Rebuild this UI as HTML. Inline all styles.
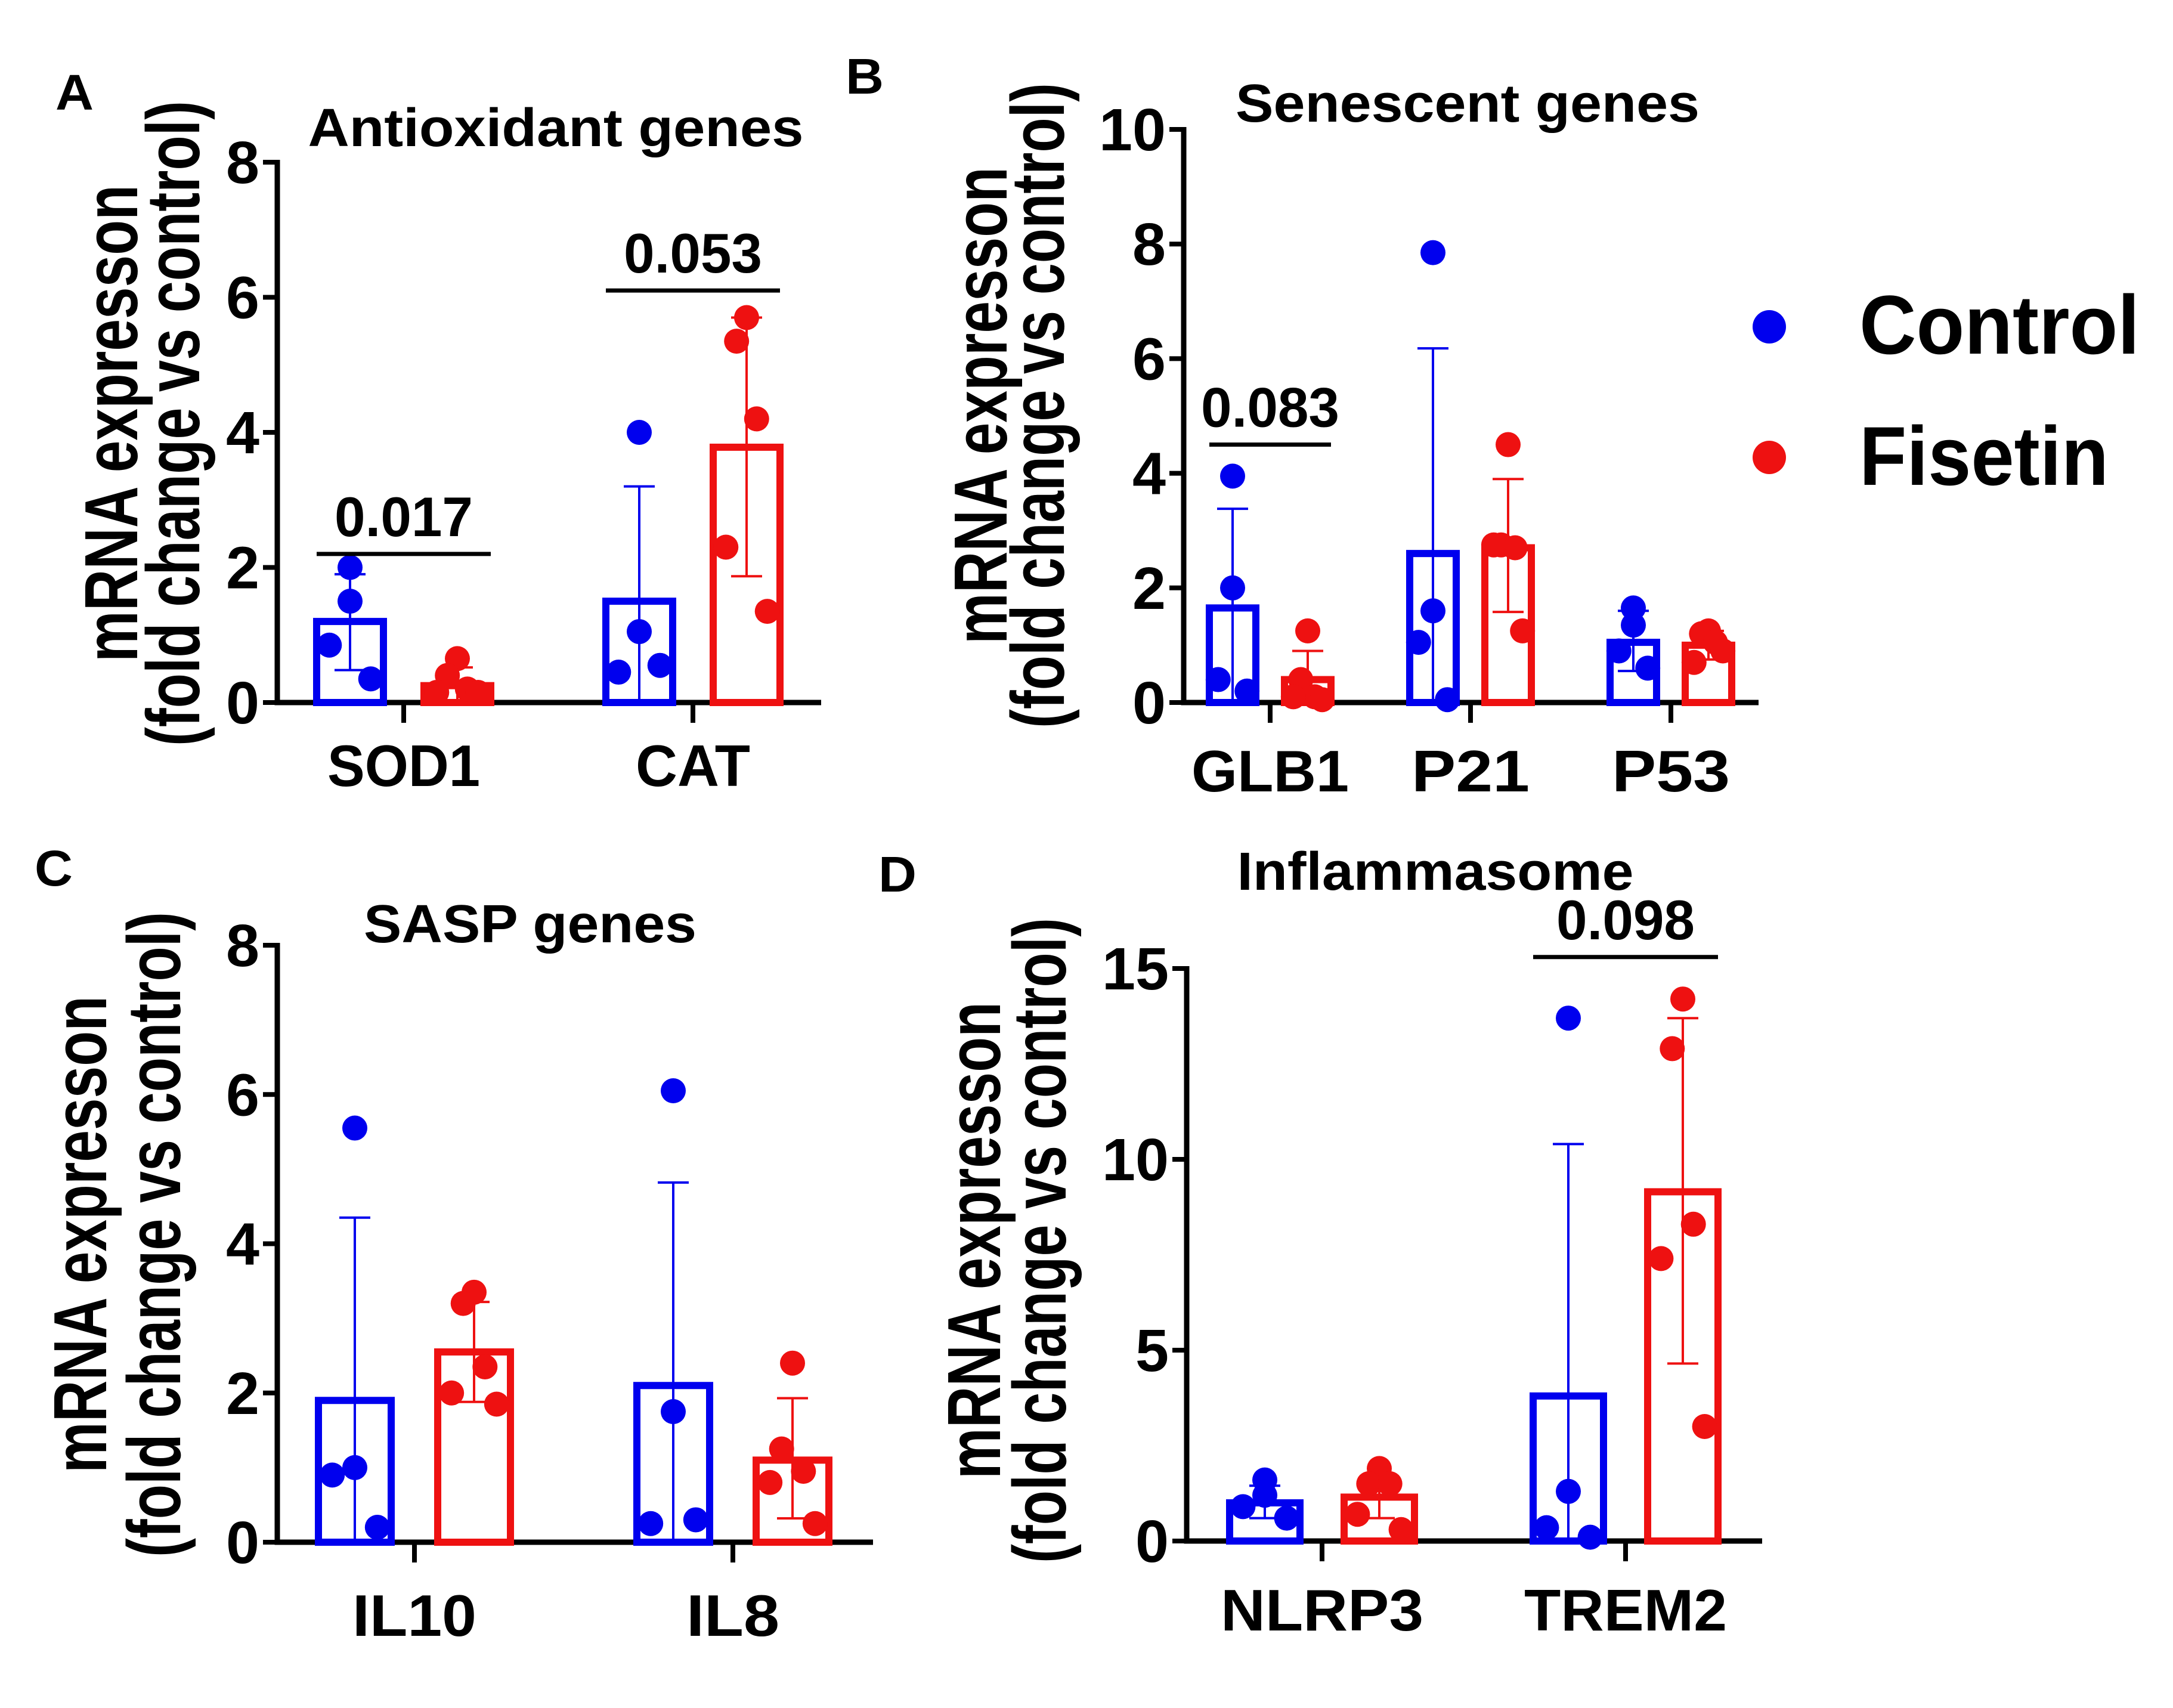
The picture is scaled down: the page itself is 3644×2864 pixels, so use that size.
<!DOCTYPE html>
<html><head><meta charset="utf-8"><style>
html,body{margin:0;padding:0;background:#fff;}
svg{display:block;}
text{font-family:"Liberation Sans",Arial,sans-serif;font-weight:bold;fill:#000;}
</style></head><body>
<svg id="fig" width="3644" height="2864" viewBox="0 0 3644 2864" xmlns="http://www.w3.org/2000/svg">
<rect width="3644" height="2864" fill="#fff"/>
<g>
<circle cx="2967" cy="548" r="28" fill="#0000ee"/>
<text x="3118" y="593" font-size="140" textLength="470" lengthAdjust="spacingAndGlyphs">Control</text>
<circle cx="2967" cy="767" r="28" fill="#ee1111"/>
<text x="3118" y="813" font-size="140" textLength="418" lengthAdjust="spacingAndGlyphs">Fisetin</text>
</g>
</svg>
<script>
// Panel A
const aCats=["SOD1","CAT"];
const aTicks=[0,2,4,6,8];
const aCtrlMean=[1.2,1.5];
const aCtrlLo=[0.48,0];
const aCtrlHi=[1.9,3.2];
const aFisMean=[0.25,3.78];
const aFisLo=[0.05,1.87];
const aFisHi=[0.52,5.7];
const aCtrlPts=[[2.0,1.5,0.85,0.35],[4.0,1.05,0.45,0.55]];
const aFisPts=[[0.65,0.4,0.2,0.15,0.15],[5.7,5.35,4.2,2.3,1.35]];
const aSig=[{cat:0,y:2.2,label:"0.017"},{cat:1,y:6.1,label:"0.053"}];
// Panel B
const bCats=["GLB1","P21","P53"];
const bTicks=[0,2,4,6,8,10];
const bCtrlMean=[1.65,2.6,1.05];
const bCtrlLo=[0,0,0.55];
const bCtrlHi=[3.38,6.18,1.6];
const bFisMean=[0.4,2.7,1.0];
const bFisLo=[0,1.58,0.75];
const bFisHi=[0.9,3.9,1.25];
const bCtrlPts=[[3.95,2.0,0.4,0.2],[7.85,1.6,1.05,0.05],[1.65,1.35,0.9,0.6]];
const bFisPts=[[1.25,0.4,0.1,0.1,0.05],[4.5,2.75,2.7,2.75,1.25],[1.25,1.2,1.05,0.7,0.9]];
const bSig=[{cat:0,y:4.5,label:"0.083"}];
// Panel C
const cCats=["IL10","IL8"];
const cTicks=[0,2,4,6,8];
const cCtrlMean=[1.9,2.1];
const cCtrlLo=[0,0];
const cCtrlHi=[4.35,4.82];
const cFisMean=[2.55,1.1];
const cFisLo=[1.88,0.32];
const cFisHi=[3.22,1.93];
const cCtrlPts=[[5.55,1.0,0.9,0.2],[6.05,1.75,0.25,0.3]];
const cFisPts=[[3.35,3.2,2.35,2.0,1.85],[2.4,1.25,0.95,0.8,0.25]];
const cSig=[];
// Panel D
const dCats=["NLRP3","TREM2"];
const dTicks=[0,5,10,15];
const dCtrlMean=[1.0,3.8];
const dCtrlLo=[0.6,0];
const dCtrlHi=[1.45,10.4];
const dFisMean=[1.15,9.15];
const dFisLo=[0.6,4.65];
const dFisHi=[1.75,13.7];
const dCtrlPts=[[1.6,1.2,0.9,0.6],[13.7,1.3,0.35,0.1]];
const dFisPts=[[1.9,1.5,1.5,0.7,0.3],[14.2,12.9,8.3,7.4,3.0]];
const dSig=[{cat:1,y:15.3,label:"0.098"}];

const NS="http://www.w3.org/2000/svg";
const svg=document.getElementById('fig');
const BLUE="#0000ee",RED="#ee1111";
function mk(tag,attrs,parent){const e=document.createElementNS(NS,tag);for(const k in attrs)e.setAttribute(k,attrs[k]);(parent||svg).appendChild(e);return e;}
function txt(s,attrs,parent){const e=mk('text',attrs,parent);e.textContent=s;return e;}

function panel(p){
  const g=mk('g',{});
  
  
  const y=v=>p.y0-(v/p.max)*(p.y0-p.yTop);
  const xc=i=>p.tick0+i*p.step;
  const L=txt(p.letter,{x:p.lx,y:p.ly+6,'font-size':84,textLength:64,lengthAdjust:'spacingAndGlyphs'},g);
  
  
  const T=txt(p.title,{x:p.tx,y:p.ty,'font-size':90,'text-anchor':'middle',textLength:p.tw,lengthAdjust:'spacingAndGlyphs'},g);
  
  
  const yl=mk('g',{transform:`translate(${p.ylx1},${p.ylc1}) rotate(-90)`},g);
  
  
  txt('mRNA expresson',{x:0,y:0,'font-size':126,'text-anchor':'middle',textLength:800,lengthAdjust:'spacingAndGlyphs'},yl);
  txt('(fold change vs control)',{x:0,y:p.ylx2-p.ylx1,'font-size':126,'text-anchor':'middle',textLength:1082,lengthAdjust:'spacingAndGlyphs'},yl);
  const ax=mk('path',{d:`M${p.ax} ${p.yTop-4} V${p.y0} H${p.axR}`,stroke:'#000','stroke-width':9,fill:'none'},g);
  
  
  p.ticks.forEach(t=>{
    const tk=mk('line',{x1:p.ax-24,x2:p.ax,y1:y(t),y2:y(t),stroke:'#000','stroke-width':8},g);
    
    
    const s=String(t);
    const tl=txt(s,{x:p.ax-30,y:y(t)+35,'font-size':100,'text-anchor':'end',textLength:s.length*56,lengthAdjust:'spacingAndGlyphs'},g);
    
    
  });
  p.cats.forEach((c,i)=>{
    const tk=mk('line',{x1:xc(i),x2:xc(i),y1:p.y0,y2:p.y0+34,stroke:'#000','stroke-width':8},g);
    
    
    const cl=txt(c,{x:xc(i),y:p.y0+p.cly,'font-size':98,'text-anchor':'middle',textLength:c.length*p.clw,lengthAdjust:'spacingAndGlyphs'},g);
    
    
    const groups=[[p.cm,p.clo,p.chi,p.cp,BLUE,-1,'control'],[p.fm,p.flo,p.fhi,p.fp,RED,1,'fisetin']];
    groups.forEach(([m,lo,hi,pts,col,sgn,nm])=>{
      const cx=xc(i)+sgn*p.off, hw=p.bw/2;
      const bar=mk('rect',{x:cx-hw,y:y(m[i]),width:p.bw,height:p.y0-y(m[i]),fill:'none',stroke:col,'stroke-width':12},g);
      
      
      const eb=mk('g',{stroke:col,'stroke-width':4},g);
      
      
      const l=Math.max(lo[i],0);
      mk('line',{x1:cx,x2:cx,y1:y(hi[i]),y2:y(l)},eb);
      mk('line',{x1:cx-26,x2:cx+26,y1:y(hi[i]),y2:y(hi[i])},eb);
      if(lo[i]>0.05)mk('line',{x1:cx-26,x2:cx+26,y1:y(lo[i]),y2:y(lo[i])},eb);
      const jit=[0,0,-0.62,0.62,0.55];
      pts[i].forEach((v,k)=>{
        const j=pts[i].length===5?[0,-0.3,0.3,-0.62,0.62][k]:jit[k];
        const dt=mk('circle',{cx:cx+j*hw,cy:y(v),r:21,fill:col},g);
        
        
      });
    });
  });
  p.sig.forEach(s=>{
    const x1=xc(s.cat)-p.off-p.bw/2, x2=xc(s.cat)+p.off+p.bw/2;
    const ln=mk('line',{x1:x1,x2:x2,y1:y(s.y),y2:y(s.y),stroke:'#000','stroke-width':7},g);
    
    
    const lb=txt(s.label,{x:(x1+x2)/2,y:y(s.y)-30,'font-size':94,'text-anchor':'middle',textLength:232,lengthAdjust:'spacingAndGlyphs'},g);
    
    
  });
}

panel({id:'a',letter:'A',lx:93,ly:178,title:'Antioxidant genes',tx:932,ty:245,tw:831,
  ylx1:186+44,ylx2:290+44,ylc1:710,ax:465,axR:1377,y0:1178,yTop:272,max:8,tick0:677,step:485,off:90,bw:112,cly:140,clw:64,
  cats:aCats,ticks:aTicks,cm:aCtrlMean,clo:aCtrlLo,chi:aCtrlHi,fm:aFisMean,flo:aFisLo,fhi:aFisHi,cp:aCtrlPts,fp:aFisPts,sig:aSig});
panel({id:'b',letter:'B',lx:1418,ly:151,title:'Senescent genes',tx:2461,ty:204,tw:778,
  ylx1:1644+44,ylx2:1740+44,ylc1:680,ax:1985,axR:2949,y0:1178,yTop:217,max:10,tick0:2130,step:336,off:63,bw:78,cly:149,clw:66,
  cats:bCats,ticks:bTicks,cm:bCtrlMean,clo:bCtrlLo,chi:bCtrlHi,fm:bFisMean,flo:bFisLo,fhi:bFisHi,cp:bCtrlPts,fp:bFisPts,sig:bSig});
panel({id:'c',letter:'C',lx:58,ly:1479,title:'SASP genes',tx:889,ty:1580,tw:558,
  ylx1:134+44,ylx2:258+44,ylc1:2070,ax:465,axR:1464,y0:2586,yTop:1585,max:8,tick0:695,step:534,off:100,bw:122,cly:157,clw:52,
  cats:cCats,ticks:cTicks,cm:cCtrlMean,clo:cCtrlLo,chi:cCtrlHi,fm:cFisMean,flo:cFisLo,fhi:cFisHi,cp:cCtrlPts,fp:cFisPts,sig:cSig});
panel({id:'d',letter:'D',lx:1473,ly:1489,title:'Inflammasome',tx:2407,ty:1492,tw:665,
  ylx1:1633+44,ylx2:1743+44,ylc1:2080,ax:1990,axR:2955,y0:2584,yTop:1624,max:15,tick0:2217,step:509,off:96,bw:118,cly:150,clw:68,
  cats:dCats,ticks:dTicks,cm:dCtrlMean,clo:dCtrlLo,chi:dCtrlHi,fm:dFisMean,flo:dFisLo,fhi:dFisHi,cp:dCtrlPts,fp:dFisPts,sig:dSig});
</script>
</body></html>
